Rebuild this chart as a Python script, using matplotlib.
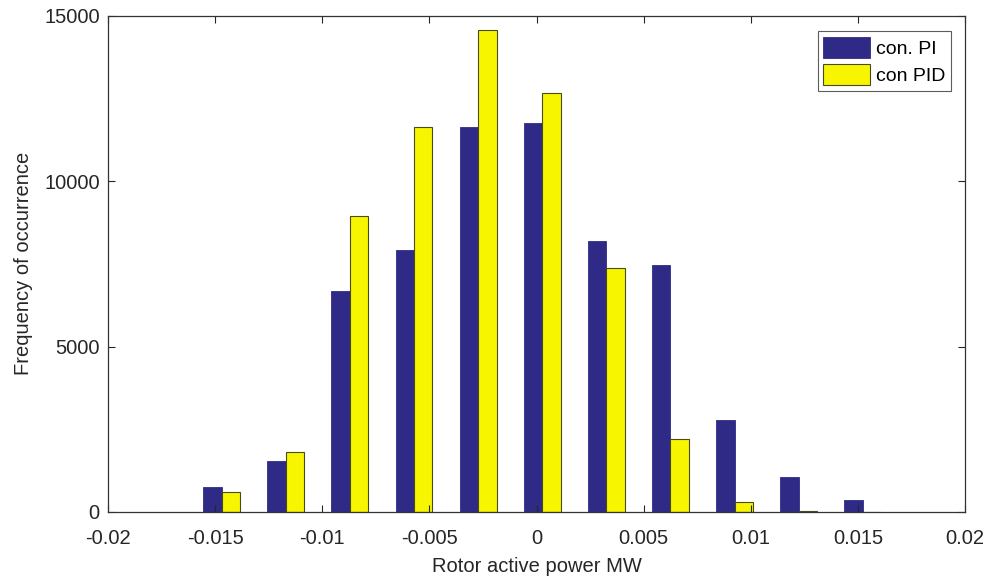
import matplotlib
matplotlib.use("Agg")
import matplotlib.pyplot as plt
import numpy as np

plt.rcParams['font.family'] = ['Liberation Sans', 'DejaVu Sans']

# Histogram bin centres (MW) and counts for each controller
bin_centers = [-0.01469, -0.01170, -0.00871, -0.00572, -0.00272, 0.00027,
               0.00326, 0.00625, 0.00925, 0.01224, 0.01523]
counts_pi = [750, 1540, 6690, 7930, 11630, 11750, 8180, 7470, 2780, 1050, 350]
counts_pid = [600, 1810, 8950, 11650, 14560, 12660, 7370, 2200, 290, 25, 8]

series_labels = ["con. PI", "con PID"]
x_ticks = [-0.02, -0.015, -0.01, -0.005, 0, 0.005, 0.01, 0.015, 0.02]
x_tick_labels = ["-0.02", "-0.015", "-0.01", "-0.005", "0", "0.005", "0.01", "0.015", "0.02"]
y_ticks = [0, 5000, 10000, 15000]

fig = plt.figure(figsize=(9.91, 5.82), dpi=100)
ax = fig.add_axes([0.109, 0.1203, 0.8648, 0.8527])

bar_w = 0.00086
c = np.array(bin_centers)
ax.bar(c - bar_w / 2, counts_pi, width=bar_w, color="#2e2a86",
       edgecolor="#2e2a86", linewidth=0.6, label=series_labels[0])
ax.bar(c + bar_w / 2, counts_pid, width=bar_w, color="#f7f500",
       edgecolor="#4a4a20", linewidth=0.8, label=series_labels[1])

ax.set_xlim(-0.02, 0.02)
ax.set_ylim(0, 15000)
ax.set_xticks(x_ticks)
ax.set_xticklabels(x_tick_labels)
ax.set_yticks(y_ticks)
ax.tick_params(direction="in", length=5, width=0.8, top=True, right=True,
               labelsize=14.5, colors="#262626")
ax.tick_params(axis="x", pad=12)
ax.tick_params(axis="y", pad=6)
for s in ax.spines.values():
    s.set_linewidth(0.9)
    s.set_color("#333333")

ax.set_xlabel("Rotor active power MW", fontsize=14.5, color="#262626", labelpad=7)
ax.set_ylabel("Frequency of occurrence", fontsize=14.5, color="#262626", labelpad=8)

leg = ax.legend(loc="upper right", bbox_to_anchor=(0.9837, 0.9698), fontsize=14,
                frameon=True, fancybox=False, edgecolor="#333333",
                handlelength=2.4, handleheight=1.3, handletextpad=0.3,
                borderpad=0.3, labelspacing=0.3, borderaxespad=0)
leg.get_frame().set_linewidth(0.8)

fig.savefig("out.png", dpi=100, facecolor="white")
